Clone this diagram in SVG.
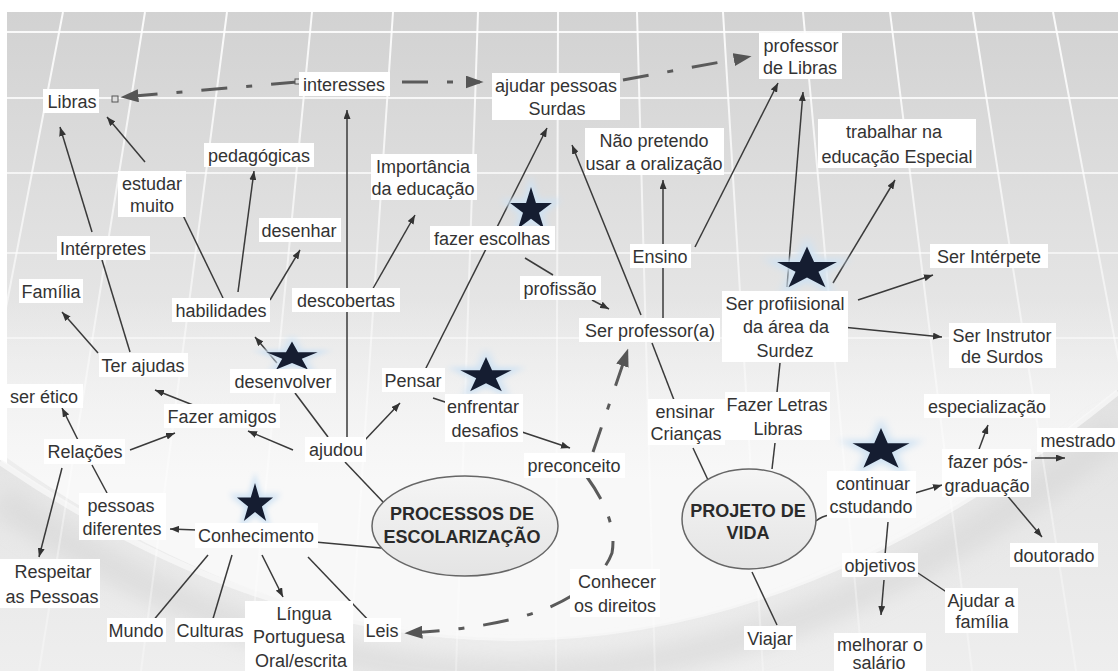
<svg xmlns="http://www.w3.org/2000/svg" width="1118" height="671" viewBox="0 0 1118 671">
<defs>
<style>
.t{font-family:"Liberation Sans",Arial,sans-serif;font-size:18px;fill:#333;text-anchor:middle}
.h{font-family:"Liberation Sans",Arial,sans-serif;font-size:18px;font-weight:bold;fill:#2a2a2a;text-anchor:middle}
.b{fill:#fff}
.c{stroke:#3a3a3a;stroke-width:1.5;fill:none}
.a{marker-end:url(#ah)}
.d{stroke:#5a5a5a;stroke-width:3;fill:none;stroke-dasharray:26 19 6 19}
.da{marker-end:url(#dh)}
.g{stroke:url(#gridg);stroke-width:2;fill:none}
.el{fill:url(#elg);stroke:#666;stroke-width:1.5}
.st{fill:#151d31}
.glow{fill:#cfe2f3;stroke:#cfe2f3;stroke-width:3;filter:url(#blur)}
</style>
<linearGradient id="bg" x1="0" y1="0" x2="0" y2="1">
<stop offset="0" stop-color="#d2d2d2"/>
<stop offset="0.35" stop-color="#e1e1e1"/>
<stop offset="0.65" stop-color="#eeeeee"/>
<stop offset="1" stop-color="#ebebeb"/>
</linearGradient>
<linearGradient id="gridg" x1="0" y1="12" x2="0" y2="671" gradientUnits="userSpaceOnUse">
<stop offset="0" stop-color="#fff" stop-opacity="0.9"/>
<stop offset="0.55" stop-color="#fff" stop-opacity="0.45"/>
<stop offset="1" stop-color="#fff" stop-opacity="0.3"/>
</linearGradient>
<linearGradient id="lg" x1="0" y1="300" x2="0" y2="480" gradientUnits="userSpaceOnUse">
<stop offset="0" stop-color="#f6f6f6" stop-opacity="0"/>
<stop offset="1" stop-color="#f8f8f8" stop-opacity="1"/>
</linearGradient>
<linearGradient id="low" x1="0" y1="400" x2="0" y2="671" gradientUnits="userSpaceOnUse">
<stop offset="0" stop-color="#e2e2e2"/>
<stop offset="1" stop-color="#eeeeee"/>
</linearGradient>
<linearGradient id="elg" x1="0" y1="0" x2="0" y2="1">
<stop offset="0" stop-color="#f5f5f5"/>
<stop offset="1" stop-color="#e4e4e4"/>
</linearGradient>
<filter id="blur" x="-30%" y="-30%" width="160%" height="160%"><feGaussianBlur stdDeviation="1.5"/></filter>
<filter id="bigblur" x="-10%" y="-50%" width="120%" height="200%"><feGaussianBlur stdDeviation="10"/></filter>
<marker id="ah" viewBox="0 0 10 8" refX="10" refY="4" markerWidth="9" markerHeight="7" markerUnits="userSpaceOnUse" orient="auto" preserveAspectRatio="none"><path d="M0,0 L10,4 L0,8 Z" fill="#333"/></marker>
<marker id="dh" viewBox="0 0 10 8" refX="8" refY="4" markerWidth="18" markerHeight="13" markerUnits="userSpaceOnUse" orient="auto" preserveAspectRatio="none"><path d="M0,0 L10,4 L0,8 Z" fill="#555"/></marker>
<path id="star" d="M0,-10 L2.245,-3.09 L9.511,-3.09 L3.633,1.18 L5.878,8.09 L0,3.82 L-5.878,8.09 L-3.633,1.18 L-9.511,-3.09 L-2.245,-3.09 Z"/>
</defs>

<g id="background">
<rect x="0" y="0" width="1118" height="671" fill="#fff"/>
<rect x="7" y="12" width="1111" height="659" fill="url(#bg)"/>
<path d="M7,300 L1118,300 L1118,390 Q560,850 7,458 Z" fill="url(#lg)"/>
<path d="M0,460 Q560,850 1118,390 L1118,671 L0,671 Z" fill="url(#low)"/>
<path d="M0,500 Q560,880 1118,430" stroke="#d6d6d6" stroke-width="30" fill="none" filter="url(#bigblur)" opacity="0.6"/>
<path d="M0,462 Q560,846 1118,392" stroke="#f8f8f8" stroke-width="6" fill="none" opacity="0.8"/>
<g class="g">
<path d="M7,32 H1118 M7,98 H1118 M7,173 H1118 M7,253 H1118 M7,338 H1118"/>
<path d="M63,12 L-64,671 M145,12 L39,671 M227,12 L141,671 M312,12 L248,671 M393,12 L349,671 M478,12 L456,671 M558,12 L556,671 M637,12 L655,671 M723,12 L763,671 M803,12 L863,671 M890,12 L972,671 M973,12 L1076,671 M1053,12 L1177,671"/>
</g>
</g>

<g id="connectors">
<path class="d da" d="M297,82 L124,97"/>
<rect x="112" y="96" width="6" height="6" fill="#ddd" stroke="#555" stroke-width="1"/>
<rect x="295" y="79" width="5" height="5" fill="#ddd" stroke="#555" stroke-width="1"/>
<path class="d da" d="M402,82 L480,82"/>
<path class="d da" d="M623,80 L748,57"/>
<path class="d da" d="M593,452 L627,352"/>
<path class="d da" d="M587,477 Q618,520 612,553 Q600,585 550,607 Q500,628 408,633"/>

<path class="c a" d="M145,162 L107,117"/>
<path class="c" d="M130,352 L102,260"/>
<path class="c a" d="M92,232 L60,127"/>
<path class="c a" d="M98,353 L62,312"/>
<path class="c a" d="M223,298 L178,205"/>
<path class="c a" d="M238,292 L254,171"/>
<path class="c a" d="M270,300 L300,250"/>
<path class="c a" d="M277,363 L255,337"/>
<path class="c" d="M295,393 L328,437"/>
<path class="c a" d="M293,450 L248,431"/>
<path class="c a" d="M193,405 L155,390"/>
<path class="c a" d="M130,450 L175,433"/>
<path class="c a" d="M78,440 L62,408"/>
<path class="c" d="M92,465 L107,493"/>
<path class="c a" d="M62,468 L39,557"/>
<path class="c a" d="M197,530 L170,529"/>
<path class="c" d="M208,555 L152,622"/>
<path class="c" d="M232,555 L212,622"/>
<path class="c a" d="M262,555 L283,597"/>
<path class="c" d="M308,557 L373,625"/>
<path class="c" d="M315,542 L381,548"/>
<path class="c" d="M345,462 L384,503"/>
<path class="c a" d="M347,440 L347,110"/>
<path class="c a" d="M371,292 L415,215"/>
<path class="c a" d="M363,442 L400,403"/>
<path class="c a" d="M425,370 L547,128"/>
<path class="c" d="M525,258 L553,275"/>
<path class="c a" d="M592,300 L609,309"/>
<path class="c" d="M433,398 L448,403"/>
<path class="c a" d="M522,432 L570,448"/>
<path class="c a" d="M641,315 L572,145"/>
<path class="c" d="M663,318 L663,268"/>
<path class="c a" d="M663,245 L663,180"/>
<path class="c a" d="M695,247 L778,83"/>
<path class="c" d="M652,343 L674,400"/>
<path class="c" d="M693,448 L708,480"/>
<path class="c" d="M775,443 L772,469"/>
<path class="c" d="M780,363 L777,392"/>
<path class="c a" d="M787,287 L803,92"/>
<path class="c a" d="M833,283 L895,180"/>
<path class="c a" d="M858,300 L933,275"/>
<path class="c a" d="M842,327 L942,337"/>
<path class="c" d="M816,521 Q822,516 830,515"/>
<path class="c a" d="M915,493 L942,485"/>
<path class="c a" d="M978,452 L988,425"/>
<path class="c a" d="M1035,458 L1065,458"/>
<path class="c a" d="M1005,493 L1042,537"/>
<path class="c" d="M888,522 L885,555"/>
<path class="c a" d="M884,580 L881,615"/>
<path class="c" d="M918,573 L948,593"/>
<path class="c" d="M752,572 L777,625"/>
</g>

<g id="stars">
<g transform="translate(531,210) scale(2.2,2.3)"><use href="#star" class="glow"/><use href="#star" class="st"/></g>
<g transform="translate(807,269) scale(3.15,2.25)"><use href="#star" class="glow"/><use href="#star" class="st"/></g>
<g transform="translate(292,357) scale(2.7,1.55)"><use href="#star" class="glow"/><use href="#star" class="st"/></g>
<g transform="translate(486,376) scale(2.7,1.9)"><use href="#star" class="glow"/><use href="#star" class="st"/></g>
<g transform="translate(881,450) scale(3.0,2.2)"><use href="#star" class="glow"/><use href="#star" class="st"/></g>
<g transform="translate(255,504) scale(1.9,2.1)"><use href="#star" class="glow"/><use href="#star" class="st"/></g>
</g>

<g id="n-processos"><ellipse class="el" cx="465" cy="526" rx="93" ry="50"/><text class="h" x="462" y="520">PROCESSOS DE</text><text class="h" x="462" y="543">ESCOLARIZAÇÃO</text></g>
<g id="n-projeto"><ellipse class="el" cx="749" cy="519" rx="67" ry="50"/><text class="h" x="748" y="517">PROJETO DE</text><text class="h" x="748" y="539">VIDA</text></g>

<g id="n-libras"><rect class="b" x="43" y="89" width="56" height="24"/><text class="t" x="72" y="108">Libras</text></g>
<g id="n-interesses"><rect class="b" x="299" y="72" width="91" height="24"/><text class="t" x="344" y="91">interesses</text></g>
<g id="n-ajudar"><rect class="b" x="492" y="73" width="128" height="47"/><text class="t" x="556" y="92">ajudar pessoas</text><text class="t" x="557" y="115">Surdas</text></g>
<g id="n-proflibras"><rect class="b" x="759" y="33" width="83" height="46"/><text class="t" x="801" y="52">professor</text><text class="t" x="800" y="74">de Libras</text></g>
<g id="n-pedagogicas"><rect class="b" x="204" y="143" width="110" height="24"/><text class="t" x="259" y="162">pedagógicas</text></g>
<g id="n-estudar"><rect class="b" x="118" y="171" width="68" height="46"/><text class="t" x="152" y="190">estudar</text><text class="t" x="152" y="212">muito</text></g>
<g id="n-importancia"><rect class="b" x="371" y="154" width="106" height="46"/><text class="t" x="423" y="173">Importância</text><text class="t" x="423" y="195">da educação</text></g>
<g id="n-naopretendo"><rect class="b" x="585" y="128" width="139" height="47"/><text class="t" x="654" y="147">Não pretendo</text><text class="t" x="654" y="170">usar a oralização</text></g>
<g id="n-trabalhar"><rect class="b" x="818" y="119" width="158" height="49"/><text class="t" x="894" y="138">trabalhar na</text><text class="t" x="897" y="163">educação Especial</text></g>
<g id="n-escolhas"><rect class="b" x="430" y="226" width="125" height="24"/><text class="t" x="492" y="245">fazer escolhas</text></g>
<g id="n-desenhar"><rect class="b" x="259" y="218" width="82" height="24"/><text class="t" x="299" y="237">desenhar</text></g>
<g id="n-interpretes"><rect class="b" x="57" y="236" width="93" height="24"/><text class="t" x="103" y="255">Intérpretes</text></g>
<g id="n-ensino"><rect class="b" x="630" y="244" width="61" height="24"/><text class="t" x="660" y="263">Ensino</text></g>
<g id="n-serinterprete"><rect class="b" x="930" y="244" width="118" height="24"/><text class="t" x="989" y="263">Ser Intérpete</text></g>
<g id="n-familia"><rect class="b" x="19" y="279" width="64" height="24"/><text class="t" x="51" y="298">Família</text></g>
<g id="n-habilidades"><rect class="b" x="172" y="298" width="98" height="24"/><text class="t" x="221" y="317">habilidades</text></g>
<g id="n-descobertas"><rect class="b" x="292" y="288" width="108" height="24"/><text class="t" x="346" y="307">descobertas</text></g>
<g id="n-profissao"><rect class="b" x="520" y="276" width="81" height="24"/><text class="t" x="560" y="295">profissão</text></g>
<g id="n-serprofissional"><rect class="b" x="722" y="291" width="126" height="71"/><text class="t" x="785" y="310">Ser profiisional</text><text class="t" x="786" y="333">da área da</text><text class="t" x="785" y="357">Surdez</text></g>
<g id="n-serprofessor"><rect class="b" x="579" y="318" width="141" height="24"/><text class="t" x="650" y="337">Ser professor(a)</text></g>
<g id="n-serinstrutor"><rect class="b" x="949" y="323" width="107" height="45"/><text class="t" x="1002" y="342">Ser Instrutor</text><text class="t" x="1002" y="363">de Surdos</text></g>
<g id="n-terajudas"><rect class="b" x="99" y="353" width="89" height="24"/><text class="t" x="143" y="372">Ter ajudas</text></g>
<g id="n-desenvolver"><rect class="b" x="230" y="369" width="106" height="24"/><text class="t" x="283" y="388">desenvolver</text></g>
<g id="n-pensar"><rect class="b" x="382" y="368" width="63" height="24"/><text class="t" x="413" y="387">Pensar</text></g>
<g id="n-enfrentar"><rect class="b" x="445" y="394" width="78" height="48"/><text class="t" x="483" y="413">enfrentar</text><text class="t" x="485" y="437">desafios</text></g>
<g id="n-seretico"><rect class="b" x="5" y="384" width="78" height="24"/><text class="t" x="44" y="403">ser ético</text></g>
<g id="n-fazeramigos"><rect class="b" x="164" y="404" width="116" height="24"/><text class="t" x="222" y="423">Fazer amigos</text></g>
<g id="n-ensinar"><rect class="b" x="648" y="399" width="77" height="46"/><text class="t" x="685" y="418">ensinar</text><text class="t" x="686" y="440">Crianças</text></g>
<g id="n-fazerletras"><rect class="b" x="725" y="392" width="105" height="48"/><text class="t" x="777" y="411">Fazer Letras</text><text class="t" x="778" y="435">Libras</text></g>
<g id="n-especializacao"><rect class="b" x="924" y="394" width="126" height="24"/><text class="t" x="987" y="413">especialização</text></g>
<g id="n-mestrado"><rect class="b" x="1037" y="428" width="81" height="24"/><text class="t" x="1078" y="447">mestrado</text></g>
<g id="n-relacoes"><rect class="b" x="44" y="439" width="81" height="25"/><text class="t" x="85" y="458">Relações</text></g>
<g id="n-ajudou"><rect class="b" x="305" y="437" width="61" height="25"/><text class="t" x="336" y="456">ajudou</text></g>
<g id="n-preconceito"><rect class="b" x="524" y="453" width="101" height="25"/><text class="t" x="574" y="472">preconceito</text></g>
<g id="n-posgraduacao"><rect class="b" x="942" y="449" width="89" height="48"/><text class="t" x="988" y="468">fazer pós-</text><text class="t" x="987" y="492">graduação</text></g>
<g id="n-continuar"><rect class="b" x="827" y="471" width="89" height="47"/><text class="t" x="873" y="490">continuar</text><text class="t" x="871" y="513">cstudando</text></g>
<g id="n-pessoas"><rect class="b" x="79" y="493" width="87" height="47"/><text class="t" x="121" y="512">pessoas</text><text class="t" x="122" y="535">diferentes</text></g>
<g id="n-conhecimento"><rect class="b" x="195" y="523" width="123" height="25"/><text class="t" x="256" y="542">Conhecimento</text></g>
<g id="n-doutorado"><rect class="b" x="1010" y="543" width="88" height="24"/><text class="t" x="1054" y="562">doutorado</text></g>
<g id="n-respeitar"><rect class="b" x="0" y="559" width="100" height="49"/><text class="t" x="53" y="578">Respeitar</text><text class="t" x="52" y="603">as Pessoas</text></g>
<g id="n-conhecer"><rect class="b" x="570" y="569" width="90" height="48"/><text class="t" x="617" y="588">Conhecer</text><text class="t" x="615" y="612">os direitos</text></g>
<g id="n-objetivos"><rect class="b" x="842" y="553" width="76" height="24"/><text class="t" x="880" y="572">objetivos</text></g>
<g id="n-ajudarfamilia"><rect class="b" x="945" y="588" width="73" height="45"/><text class="t" x="981" y="607">Ajudar a</text><text class="t" x="982" y="628">família</text></g>
<g id="n-mundo"><rect class="b" x="107" y="618" width="59" height="24"/><text class="t" x="136" y="637">Mundo</text></g>
<g id="n-culturas"><rect class="b" x="175" y="618" width="71" height="24"/><text class="t" x="210" y="637">Culturas</text></g>
<g id="n-lingua"><rect class="b" x="245" y="601" width="108" height="70"/><text class="t" x="304" y="620">Língua</text><text class="t" x="299" y="643">Portuguesa</text><text class="t" x="301" y="667">Oral/escrita</text></g>
<g id="n-leis"><rect class="b" x="364" y="618" width="37" height="24"/><text class="t" x="382" y="637">Leis</text></g>
<g id="n-viajar"><rect class="b" x="744" y="626" width="52" height="24"/><text class="t" x="770" y="645">Viajar</text></g>
<g id="n-melhorar"><rect class="b" x="834" y="633" width="92" height="38"/><text class="t" x="880" y="651">melhorar o</text><text class="t" x="879" y="669">salário</text></g>
</svg>
